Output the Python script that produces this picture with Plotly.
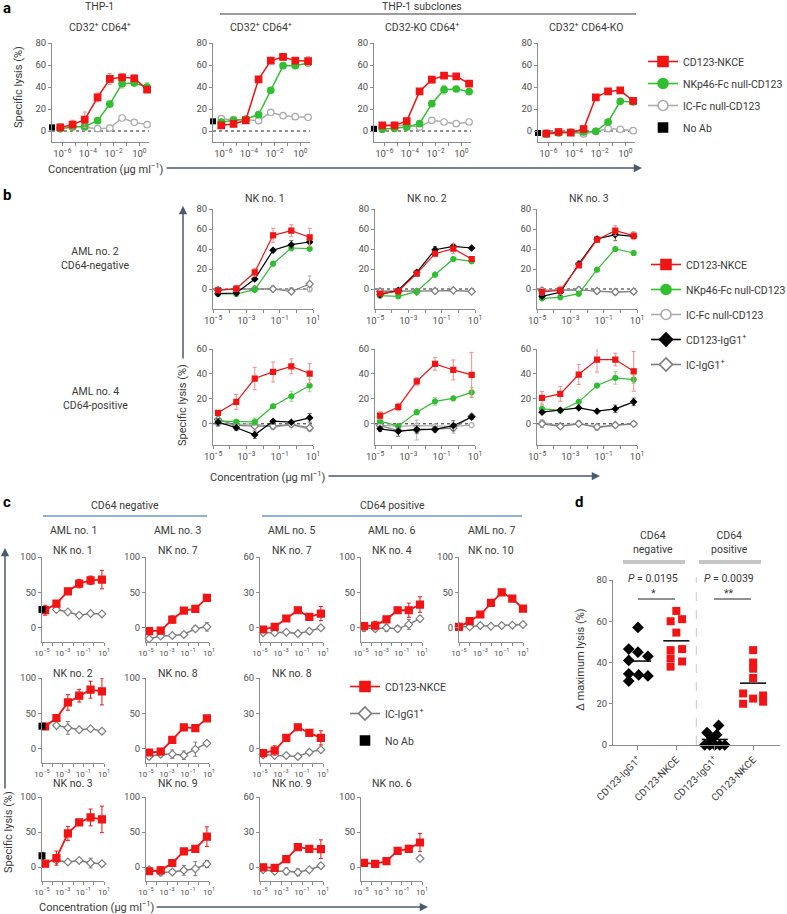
import plotly.graph_objects as go

# ---------------- data ----------------
# panel a: THP-1 and THP-1 subclones, 8 concentrations (ug/ml)
conc_a = [7e-7, 6.3e-6, 5.6e-5, 5.6e-4, 5e-3, 4.5e-2, 0.4, 4.0]
a_cells = ["CD32<sup>+</sup> CD64<sup>+</sup>", "CD32<sup>+</sup> CD64<sup>+</sup>",
           "CD32-KO CD64<sup>+</sup>", "CD32<sup>+</sup> CD64-KO"]
a_nkce = [[3.3, 5.8, 10.3, 30.6, 47.3, 48.8, 47.9, 37.6],
          [5.2, 6.4, 9.7, 47.0, 64.0, 67.3, 64.0, 63.5],
          [5.2, 5.2, 9.0, 36.0, 46.7, 50.3, 49.7, 43.0],
          [-2.4, -0.9, -1.5, 1.8, 30.6, 36.0, 37.0, 27.3]]
a_nkce_err = [[1.5, 4, 7, 4, 5, 3, 3, 2],
              [2, 2, 1, 2, 2, 3, 2, 4],
              [1, 1, 1, 1, 3, 2, 1, 1],
              [1, 1, 1, 1, 1, 1, 1, 1]]
a_nkp46 = [[2.0, 3.6, 4.2, 9.4, 24.5, 43.0, 43.6, 40.0],
           [8.2, 9.7, 10.9, 14.8, 37.0, 59.4, 59.4, 61.8],
           [1.5, 2.4, 3.6, 6.7, 24.8, 37.6, 38.2, 35.8],
           [-2.7, -1.8, -1.2, -0.9, -0.3, 8.2, 27.0, 26.4]]
a_nkp46_err = [[1, 1, 2, 2, 2, 4, 2, 4],
               [1, 1, 1, 1, 1, 1, 1, 1],
               [1, 1, 1, 1, 2, 4, 1, 1],
               [1, 1, 1, 1, 1, 1, 1, 1]]
a_icfc = [[3.5, 4.5, 3.5, 2.1, 2.7, 11.8, 7.9, 5.8],
          [11.2, 10.3, 10.3, 9.4, 17.0, 13.9, 13.0, 12.4],
          [4.0, 5.0, 5.2, 3.6, 9.7, 8.2, 6.7, 8.2],
          [-1.8, -1.0, -1.2, -2.7, -0.3, 2.1, 1.5, 0.3]]
a_noab = [3.3, 8.8, 2.0, -1.8]

# panel b: AML no. 2 / AML no. 4 with NK no. 1-3, 6 concentrations
conc_bc = [2e-5, 2.5e-4, 3.2e-3, 4e-2, 0.5, 6.3]
b_nk = ["NK no. 1", "NK no. 2", "NK no. 3"]
b_aml = ["AML no. 2<br>CD64-negative", "AML no. 4<br>CD64-positive"]
b_nkce = [[-1.3, 0.3, 16.7, 53.7, 58.3, 51.7],
          [-4.7, -2.3, 15.3, 35.3, 40.3, 30.0],
          [-3.0, -1.3, 23.7, 49.3, 58.3, 53.3],
          [8.8, 17.6, 36.3, 41.6, 46.1, 40.3],
          [6.6, 13.5, 34.0, 48.0, 43.2, 39.3],
          [20.8, 24.0, 39.5, 51.5, 51.5, 42.1]]
b_nkce_err = [[2, 3, 4, 7, 6, 9], [1, 1, 2, 2, 5, 2], [3, 4, 2, 2, 5, 4],
              [1.5, 6, 9, 8, 6, 8], [3, 3, 3, 5, 8, 18], [5, 6, 8, 10, 5, 16]]
b_nkp46 = [[-5.0, -5.0, -0.7, 25.3, 41.0, 40.3],
           [-6.7, -7.3, -2.7, 14.3, 30.0, 27.7],
           [-9.3, -8.3, -4.7, 19.3, 40.0, 36.0],
           [2.1, 1.6, 1.6, 14.1, 22.1, 30.7],
           [2.1, -1.9, 9.3, 18.0, 20.4, 25.2],
           [12.0, 10.7, 17.6, 30.7, 36.8, 35.5]]
b_nkp46_err = [[1, 1, 1, 2, 3, 1], [1, 1, 1, 1, 1, 1], [1, 1, 1, 1, 1, 2],
               [2, 2, 3, 1, 4, 5], [2, 1, 2, 3, 1, 4], [3, 2, 1, 1, 5, 3]]
b_icfc = [[-0.5, 0.0, 0.3, 0.3, -1.0, 0.0],
          [-1.5, -1.5, -2.0, -1.5, -1.3, -2.0],
          [-1.0, -1.0, -0.7, -2.3, -3.3, -2.3],
          [0.0, -0.5, 0.0, -2.7, -0.8, -4.3],
          [-1.0, -2.0, -1.5, -2.0, -2.0, -1.0],
          [1.3, -1.9, 0.8, -3.2, -1.3, 0.0]]
b_cd123igg = [[-4.7, -4.0, 10.0, 38.7, 44.3, 47.0],
              [-5.7, -1.3, 16.7, 39.3, 42.7, 41.0],
              [-7.3, -3.3, 25.0, 50.0, 54.3, 52.7],
              [1.3, -3.2, -8.8, 2.1, 1.3, 4.8],
              [-4.0, -6.0, -4.5, -4.5, -1.5, 5.5],
              [9.3, 10.9, 12.8, 10.1, 12.0, 17.6]]
b_cd123igg_err = [[1, 1, 1, 1, 4, 1], [1, 1, 1, 3, 1, 1], [1, 1, 3, 2, 6, 2],
                  [3, 2, 3, 1, 1, 3.5], [2, 4, 3, 2, 4, 2], [1, 1, 1, 1, 3, 3]]
b_icigg = [[-1.0, 0.0, 0.0, 0.0, -2.5, 5.0],
           [-2.5, -2.3, -2.7, -2.0, -1.3, -2.5],
           [-1.5, -1.5, -1.0, -2.0, -3.0, -2.5],
           [3.5, -1.3, -1.9, -1.9, -0.5, -3.2],
           [-1.5, -5.5, -5.0, -4.5, -3.5, 6.0],
           [0.0, -2.0, 0.0, -2.5, -1.0, 0.0]]
b_icigg_err = [[1, 1, 1, 1, 2, 8], [1, 1, 1, 1, 1, 1], [1, 1, 3, 1, 3, 2],
               [2, 2, 2, 1, 1, 1], [1, 1, 8, 2, 4, 2], [3, 1, 1, 1, 1, 1]]

# panel c: primary AML blasts, one plot per AML/NK pair
conc_c7 = [1e-5, 1e-4, 1e-3, 1e-2, 1e-1, 1.0, 10.0]
c_aml = ["AML no. 1", "AML no. 3", "AML no. 5", "AML no. 6", "AML no. 7"]
c_nk = ["NK no. 1", "NK no. 7", "NK no. 7", "NK no. 4", "NK no. 10",
        "NK no. 2", "NK no. 8", "NK no. 8",
        "NK no. 3", "NK no. 9", "NK no. 9", "NK no. 6"]
c_nkce = [[24.9, 34.3, 51.6, 62.4, 67.1, 68.1],
          [-4.7, -3.8, 11.7, 24.4, 26.8, 42.3],
          [-1.4, 0.8, 7.9, 14.9, 9.3, 12.1],
          [2.4, 3.3, 11.9, 24.8, 24.8, 32.9],
          [1.4, 9.4, 18.8, 35.2, 50.2, 41.3, 27.2],
          [31.5, 43.5, 65.5, 75.0, 83.5, 81.0],
          [-5.2, -3.8, 12.7, 30.2, 29.2, 43.0],
          [-3.7, -1.4, 9.3, 18.3, 13.5, 9.3],
          [4.7, 12.7, 48.0, 63.7, 70.8, 68.0],
          [-6.1, -4.7, 5.7, 22.2, 25.9, 43.4],
          [-0.3, -0.8, 6.8, 17.0, 15.6, 15.3],
          [6.0, 4.5, 8.5, 23.0, 26.0, 35.0]]
c_nkce_err = [[7, 2, 2, 6, 6, 13], [3, 2, 5, 2, 5, 2], [1, 1, 1, 1, 1, 6],
              [5, 6, 3, 3, 10, 11], [1, 1, 1, 1, 1, 1, 1],
              [1, 2, 11, 9, 12, 19], [2, 2, 3, 4, 2, 2], [1, 4, 2, 1, 2, 6],
              [1, 10, 10, 2, 12, 19], [2, 5, 4, 3, 2, 14], [1, 1, 2, 2, 1, 8],
              [2, 1, 5, 1, 5, 13]]
c_icigg = [[None, 25.8, 22.5, 17.8, 20.2, 19.7],
           [-15.5, -11.7, -10.8, -9.4, -1.4, 1.4],
           [-4.2, -4.2, -3.7, -4.8, -2.8, 0.0],
           [0.0, -1.4, 0.0, -1.4, 4.8, 12.9],
           [1.4, 1.4, 3.3, 2.3, 3.3, 3.8, 4.7],
           [None, 33.0, 29.6, 27.0, 28.5, 25.0],
           [-10.8, -7.5, -7.5, -9.0, -0.5, 8.0],
           [-5.0, -5.6, -5.6, -6.5, -2.8, -0.8],
           [None, 9.4, 7.1, 9.4, 5.7, 4.7],
           [-3.8, -7.5, -7.1, -4.7, -2.4, 4.2],
           [-2.3, -3.7, -3.7, -4.5, -2.3, 1.1],
           [None, None, None, None, None, 12.0]]
c_icigg_err = [[0, 2, 1, 1, 1, 1], [2, 1, 1, 1, 4, 6], [1, 1, 1, 1, 2, 1],
               [5, 3, 5, 4, 7, 4], [0, 0, 0, 0, 0, 0, 0],
               [0, 1, 9, 1, 1, 1], [4, 4, 6, 6, 10, 2], [1, 1, 1, 2, 2, 1],
               [0, 2, 1, 1, 7, 2], [2, 5, 2, 7, 10, 5], [1, 1, 3, 3, 1, 2],
               [0, 0, 0, 0, 0, 1]]
c_noab = [25.8, 32.0, 16.0]
c_noab_err = [0, 0, 5]

# panel d: delta maximum lysis
d_groups = ["CD123-IgG1<sup>+</sup>", "CD123-NKCE", "CD123-IgG1<sup>+</sup>", "CD123-NKCE"]
d_neg_igg = [57, 46.5, 45, 43, 41, 34.5, 34, 33.5, 31]
d_neg_nkce = [65, 61, 60, 54.5, 46.5, 46, 42, 40.5, 38]
d_pos_igg = [9.5, 6, 5, 2.5, 0, 0, 0, 0, 0]
d_pos_nkce = [46, 40, 37, 32.5, 25, 24, 22.5, 21, 20]
d_means = [40.7, 50.5, 2.7, 30.0]
d_headers = ["CD64<br>negative", "CD64<br>positive"]
d_pvals = ["<i>P</i> = 0.0195", "<i>P</i> = 0.0039"]
d_stars = ["*", "**"]

# ---------------- styling ----------------
W, H = 787, 914
FONT = "Roboto"
TXT = "#3a3a3a"
TICK = "#505050"
AXIS = "#8c8c8c"
ARROW = "#4b5a70"
RED, RED_E = "#f01414", "#f78a8a"
GREEN, GREEN_E = "#2fbf2f", "#8ad98a"
LGRAY = "#ababab"
DGRAY = "#7d7d7d"

# jitter of the dots in panel d (x offsets inside each column)
jit_neg_igg = [0.0, -0.24, 0.0, 0.26, -0.24, -0.24, 0.02, 0.26, -0.24]
jit_neg_nkce = [0.0, 0.15, -0.15, 0.0, 0.15, -0.15, -0.15, 0.15, -0.15]
jit_pos_igg = [0.1, -0.2, 0.05, -0.1, -0.26, -0.13, 0.0, 0.13, 0.26]
jit_pos_nkce = [0.0, 0.0, 0.0, 0.0, -0.26, 0.26, 0.0, 0.26, -0.26]

fig = go.Figure()
n_ax = [0]


def sup(e):
    return "10<sup>%s%d</sup>" % ("\u2212" if e < 0 else "", abs(e))


def axes(l, r, t, b, xr, yr, xt, yt, log=True, xfont=9.5):
    n_ax[0] += 1
    k = "" if n_ax[0] == 1 else str(n_ax[0])
    base = dict(showline=True, linecolor=AXIS, linewidth=1, ticks="outside", ticklen=3,
                tickcolor=AXIS, showgrid=False, zeroline=False, automargin=False,
                tickfont=dict(family=FONT, size=9.5, color=TICK))
    fig.update_layout({
        "xaxis" + k: dict(base, domain=[l / W, r / W], anchor="y" + k, range=xr, tickangle=0,
                          type="log" if log else "linear", tickvals=xt[0], ticktext=xt[1],
                          tickfont=dict(family=FONT, size=xfont, color=TICK)),
        "yaxis" + k: dict(base, domain=[1 - b / H, 1 - t / H], anchor="x" + k, range=yr,
                          tickvals=yt),
    })
    return "x" + k, "y" + k


def curve(ax, x, y, err, color, symbol, size, fill=None, ecol=None, width=1.5):
    fig.add_trace(go.Scatter(
        x=x, y=y, xaxis=ax[0], yaxis=ax[1], mode="lines+markers",
        line=dict(color=color, width=width),
        marker=dict(symbol=symbol, size=size, color=fill or color, line=dict(color=color, width=1.2)),
        error_y=dict(type="data", array=err if err else [0] * len(y), visible=bool(err),
                     color=ecol or color, thickness=1, width=2),
        cliponaxis=False, showlegend=False))


def legend_item(ax, legend, rank, name, color, symbol, fill=None, mode="lines+markers", size=10):
    # legend-only entry (no data), drawn with larger symbols like the figure key
    fig.add_trace(go.Scatter(
        x=[None], y=[None], xaxis=ax[0], yaxis=ax[1], mode=mode, name=name,
        line=dict(color=color, width=1.6),
        marker=dict(symbol=symbol, size=size, color=fill or color, line=dict(color=color, width=1.6)),
        legend=legend, legendgroup=legend + name, legendrank=rank, showlegend=True))


def noab(ax, x, y, err=0, size=6):
    fig.add_trace(go.Scatter(
        x=[x], y=[y], xaxis=ax[0], yaxis=ax[1], mode="markers",
        marker=dict(symbol="square", size=size, color="black"),
        error_y=dict(type="data", array=[err], visible=err > 0, color="#555", thickness=1, width=2),
        cliponaxis=False, showlegend=False))


def zero_dots(ax):
    fig.add_shape(type="line", xref=ax[0] + " domain", yref=ax[1], x0=0, x1=1, y0=0, y1=0,
                  line=dict(color="#222", width=1, dash="dot"), layer="below")


def text(px, py, s, size=10.5, color=TXT, angle=0, anchor="center"):
    fig.add_annotation(x=px / W, y=1 - py / H, xref="paper", yref="paper", text=s,
                       showarrow=False, textangle=angle, xanchor=anchor, yanchor="middle",
                       font=dict(family=FONT, size=size, color=color))


def line(x0, y0, x1, y1, color, width, dash=None):
    fig.add_shape(type="line", xref="paper", yref="paper", x0=x0 / W, x1=x1 / W,
                  y0=1 - y0 / H, y1=1 - y1 / H, line=dict(color=color, width=width, dash=dash))


def arrow(x0, y0, x1, y1):
    # head at (x1, y1), tail offset in pixels
    fig.add_annotation(x=x1 / W, y=1 - y1 / H, ax=x0 - x1, ay=y0 - y1, xref="paper",
                       yref="paper", axref="pixel", ayref="pixel", text="", showarrow=True,
                       arrowhead=2, arrowsize=1.1, arrowwidth=1.5, arrowcolor=ARROW, standoff=0)


xt_a = ([10.0 ** e for e in range(-6, 1)], [sup(e) if e % 2 == 0 else "" for e in range(-6, 1)])
xt_bc = ([10.0 ** e for e in range(-5, 2)], [sup(e) if e % 2 else "" for e in range(-5, 2)])

# ---------------- panel a ----------------
a_left = [52, 213, 374, 538]
for i in range(4):
    ax = axes(a_left[i], a_left[i] + 97, 43, 142, [-6.8, 0.75], [-10, 80], xt_a, [0, 20, 40, 60, 80])
    zero_dots(ax)
    curve(ax, conc_a, a_icfc[i], None, LGRAY, "circle", 6.5, fill="white")
    curve(ax, conc_a, a_nkp46[i], a_nkp46_err[i], GREEN, "circle", 6.5, ecol=GREEN_E)
    curve(ax, conc_a, a_nkce[i], a_nkce_err[i], RED, "square", 6.5, ecol=RED_E)
    noab(ax, 10 ** -6.8, a_noab[i])
    text(a_left[i] + 48, 27, a_cells[i])
    if i == 0:
        legend_item(ax, "legend", 1, "CD123-NKCE", RED, "square")
        legend_item(ax, "legend", 2, "NKp46-Fc null-CD123", GREEN, "circle")
        legend_item(ax, "legend", 3, "IC-Fc null-CD123", LGRAY, "circle", fill="white")
        legend_item(ax, "legend", 4, "No Ab", "black", "square", mode="markers", size=9)

text(99, 7, "THP-1")
text(422, 6, "THP-1 subclones")
line(220, 14, 636, 14, "#7a7a7a", 1.3)
text(18, 87, "Specific lysis (%)", size=11, angle=-90)
text(106, 168, "Concentration (\u00b5g ml<sup>\u22121</sup>)", size=11)
arrow(165, 168, 642, 168)

# ---------------- panel b ----------------
b_left = [213, 375, 537]
b_rows = [(209, 309, [-20, 80], [0, 20, 40, 60, 80]), (349, 445, [-17, 60], [0, 20, 40, 60])]
for r in range(2):
    top, bot, yr, yt = b_rows[r]
    for i in range(3):
        k = r * 3 + i
        ax = axes(b_left[i], b_left[i] + 100, top, bot, [-5, 1], yr, xt_bc, yt)
        zero_dots(ax)
        curve(ax, conc_bc, b_icfc[k], None, LGRAY, "circle", 5, fill="white", width=1.2)
        curve(ax, conc_bc, b_icigg[k], b_icigg_err[k], DGRAY, "diamond", 5.5, fill="white",
              ecol="#b5b5b5", width=1.2)
        curve(ax, conc_bc, b_nkp46[k], b_nkp46_err[k], GREEN, "circle", 5, ecol=GREEN_E, width=1.2)
        curve(ax, conc_bc, b_cd123igg[k], b_cd123igg_err[k], "black", "diamond", 4.5,
              ecol="#6a6a6a", width=1.2)
        curve(ax, conc_bc, b_nkce[k], b_nkce_err[k], RED, "square", 5, ecol=RED_E, width=1.2)
        if k == 0:
            legend_item(ax, "legend2", 1, "CD123-NKCE", RED, "square")
            legend_item(ax, "legend2", 2, "NKp46-Fc null-CD123", GREEN, "circle")
            legend_item(ax, "legend2", 3, "IC-Fc null-CD123", LGRAY, "circle", fill="white")
            legend_item(ax, "legend2", 4, "CD123-IgG1<sup>+</sup>", "black", "diamond")
            legend_item(ax, "legend2", 5, "IC-IgG1<sup>+</sup>", DGRAY, "diamond", fill="white")
for i in range(3):
    text(b_left[i] + 52, 198, b_nk[i])
text(95, 259, b_aml[0])
text(95, 398, b_aml[1])
text(182, 405, "Specific lysis (%)", size=11, angle=-90)
arrow(183, 360, 183, 206)
text(268, 476, "Concentration (\u00b5g ml<sup>\u22121</sup>)", size=11)
arrow(327, 476, 600, 476)

# ---------------- panel c ----------------
c_cols = [(42, 104), (146, 209), (260, 323), (361, 422), (459, 523)]
c_rows = [(557, 642), (678, 763), (797, 881)]
c_cells = [(0, 0), (1, 0), (2, 0), (3, 0), (4, 0), (0, 1), (1, 1), (2, 1), (0, 2), (1, 2), (2, 2), (3, 2)]
for k, (col, row) in enumerate(c_cells):
    l, r = c_cols[col]
    top, bot = c_rows[row]
    if col == 2:
        yr, yt = [-12, 60], [0, 30, 60]
    else:
        yr, yt = [-20, 100], [0, 50, 100]
    ax = axes(l, r, top, bot, [-5, 1], yr, xt_bc, yt, xfont=8)
    x = conc_c7 if len(c_nkce[k]) == 7 else conc_bc
    curve(ax, x, c_icigg[k], c_icigg_err[k], DGRAY, "diamond", 6, fill="white", width=1.5)
    curve(ax, x, c_nkce[k], c_nkce_err[k], RED, "square", 7, width=1.8)
    if col == 0:
        noab(ax, 1e-5, c_noab[row], err=c_noab_err[row], size=7)
    if k == 0:
        legend_item(ax, "legend3", 1, "CD123-NKCE", RED, "square")
        legend_item(ax, "legend3", 2, "IC-IgG1<sup>+</sup>", DGRAY, "diamond", fill="white")
        legend_item(ax, "legend3", 3, "No Ab", "black", "square", mode="markers", size=9)
    title_y = [550, 673, 783][row]
    text((l + r) / 2, title_y, c_nk[k])
    if row == 0:
        text((l + r) / 2, 530, c_aml[col])

text(125, 505, "CD64 negative")
line(43, 516, 207, 516, "#8fb1dc", 2)
text(392, 505, "CD64 positive")
line(262, 516, 522, 516, "#8fb1dc", 2)
text(8, 832, "Specific lysis (%)", size=11, angle=-90)
arrow(5, 790, 5, 548)
text(97, 906, "Concentration (\u00b5g ml<sup>\u22121</sup>)", size=11)
arrow(155, 907, 428, 907)

# ---------------- panel d ----------------
dax = axes(613, 780, 580, 745, [-0.65, 3.7], [0, 80], ([0, 1, 2, 3], d_groups),
           [0, 20, 40, 60, 80], log=False)
fig.update_layout({"xaxis%s" % dax[0][1:]: dict(tickangle=-45, ticklen=4,
                                                  tickfont=dict(family=FONT, size=10, color=TXT))})
d_sets = [(0, d_neg_igg, jit_neg_igg, "black", "diamond", 9),
          (1, d_neg_nkce, jit_neg_nkce, RED, "square", 8),
          (2, d_pos_igg, jit_pos_igg, "black", "diamond", 9),
          (3, d_pos_nkce, jit_pos_nkce, RED, "square", 8)]
for c, vals, jit, col, sym, sz in d_sets:
    fig.add_trace(go.Scatter(x=[c + j for j in jit], y=vals, xaxis=dax[0], yaxis=dax[1],
                             mode="markers", marker=dict(symbol=sym, size=sz, color=col),
                             cliponaxis=False, showlegend=False))
    fig.add_trace(go.Scatter(x=[c - 0.34, c + 0.34], y=[d_means[c]] * 2, xaxis=dax[0], yaxis=dax[1],
                             mode="lines", line=dict(color="black", width=1.5), showlegend=False))
fig.add_shape(type="line", xref=dax[0], yref="paper", x0=1.52, x1=1.52, y0=1 - 745 / H,
              y1=1 - 577 / H, line=dict(color="#c8c8c8", width=1, dash="dash"))
for g, cx in enumerate([653, 729]):
    text(cx, 542, d_headers[g], size=10.5)
    line(cx - 30, 562, cx + 32, 562, "#c6c6c6", 4)
    text(cx, 578, d_pvals[g], size=10.5)
    text(cx, 593, d_stars[g], size=10.5)
    line(cx - 15, 599, cx + 22, 599, "#222", 1)
text(580, 660, "\u0394 maximum lysis (%)", size=11, angle=-90)

# ---------------- panel letters ----------------
for lab, px, py in [("a", 7, 8), ("b", 7, 195), ("c", 7, 502), ("d", 579, 502)]:
    text(px, py, "<b>%s</b>" % lab, size=15, color="black")

leg = dict(font=dict(family=FONT, size=10.5, color=TXT), bgcolor="rgba(0,0,0,0)",
           itemsizing="trace", xanchor="left", yanchor="top", itemwidth=30)
fig.update_layout(
    width=W, height=H, margin=dict(l=0, r=0, t=0, b=0, autoexpand=False),
    paper_bgcolor="white", plot_bgcolor="white",
    font=dict(family=FONT, color=TXT),
    legend=dict(leg, x=643 / W, y=1 - 47 / H, tracegroupgap=3),
    legend2=dict(leg, x=646 / W, y=1 - 250 / H, tracegroupgap=6),
    legend3=dict(leg, x=345 / W, y=1 - 672 / H, tracegroupgap=8),
)

# the page body has an 8px default margin; drop it so the figure sits at the window origin
fig.write_html("out.html", config={"displayModeBar": False},
               post_script="document.body.style.margin='0';")
